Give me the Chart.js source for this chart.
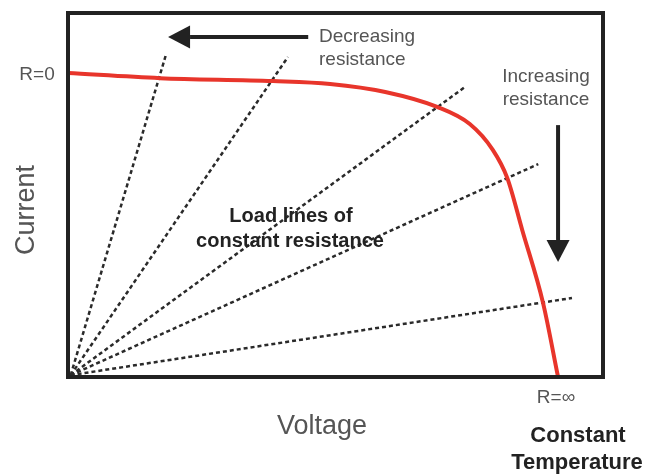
<!DOCTYPE html>
<html>
<head>
<meta charset="utf-8">
<title>Load lines</title>
<script src="https://cdn.jsdelivr.net/npm/chart.js@4/dist/chart.umd.min.js"></script>
<style>
    html, body { margin: 0; padding: 0; background: #fff; }
    canvas { display: block; }
</style>
</head>
<body>
<canvas id="ivChart" width="651" height="474"></canvas>
<script>

// I-V curve at constant temperature (both axes normalised to 0..100)
var curveVoltage = [0, 17.2, 38.3, 49.0, 59.3, 69.0, 75.1, 79.4, 82.1, 84.9, 88.8, 91.6];
var curveCurrent = [83.5, 82.1, 81.3, 80.5, 78.3, 74.2, 69.5, 62.4, 54.7, 40.4, 20.3, 0];

// far ends of the constant resistance load lines, all starting at the origin
var loadVoltage = [18.3, 41.1, 74.4, 87.9, 94.2];
var loadCurrent = [88.5, 87.9, 79.9, 58.5, 21.7];

var DARK = "#222222";
var GREY = "#555555";
var RED = "#e8352b";

function BuildDatasets() {
    var sets = [];

    var curve = [];
    for (var x = 0; x < curveVoltage.length; x++) {
        curve.push({ x: curveVoltage[x], y: curveCurrent[x] });
    }
    sets.push({
        data: curve,
        showLine: true,
        borderColor: RED,
        borderWidth: 4,
        pointRadius: 0,
        cubicInterpolationMode: "monotone"
    });

    for (var i = 0; i < loadVoltage.length; i++) {
        sets.push({
            data: [{ x: 0.5, y: 0.5 }, { x: loadVoltage[i], y: loadCurrent[i] }],
            showLine: true,
            borderColor: "#2a2a2a",
            borderWidth: 2.5,
            borderDash: [4, 3],
            pointRadius: 0
        });
    }
    return sets;
}

function DrawText(ctx, text, x, y, font, color, align) {
    ctx.font = font;
    ctx.fillStyle = color;
    ctx.textAlign = align || "center";
    ctx.textBaseline = "alphabetic";
    ctx.fillText(text, x, y);
}

function DrawArrow(ctx, x1, y1, x2, y2) {
    // shaft from (x1,y1) to the tip at (x2,y2)
    var ang = Math.atan2(y2 - y1, x2 - x1);
    var headLen = 22, headHalf = 11.5;
    var bx = x2 - Math.cos(ang) * headLen;
    var by = y2 - Math.sin(ang) * headLen;

    ctx.strokeStyle = DARK;
    ctx.lineWidth = 4;
    ctx.setLineDash([]);
    ctx.beginPath();
    ctx.moveTo(x1, y1);
    ctx.lineTo(bx, by);
    ctx.stroke();

    ctx.fillStyle = DARK;
    ctx.beginPath();
    ctx.moveTo(x2, y2);
    ctx.lineTo(bx - Math.sin(ang) * headHalf, by + Math.cos(ang) * headHalf);
    ctx.lineTo(bx + Math.sin(ang) * headHalf, by - Math.cos(ang) * headHalf);
    ctx.closePath();
    ctx.fill();
}

var frameAndNotes = {
    id: "frameAndNotes",
    afterDatasetsDraw: function (chart) {
        var ctx = chart.ctx;
        var area = chart.chartArea;
        var sx = chart.scales.x, sy = chart.scales.y;

        ctx.save();

        // plot frame
        ctx.strokeStyle = DARK;
        ctx.lineWidth = 4;
        ctx.setLineDash([]);
        ctx.strokeRect(area.left, area.top, area.right - area.left, area.bottom - area.top);

        // direction arrows
        DrawArrow(ctx, sx.getPixelForValue(44.9), sy.getPixelForValue(93.4),
                       sx.getPixelForValue(18.7), sy.getPixelForValue(93.4));
        DrawArrow(ctx, sx.getPixelForValue(91.6), sy.getPixelForValue(69.2),
                       sx.getPixelForValue(91.6), sy.getPixelForValue(31.6));

        var light = "19px 'Liberation Sans', Arial, sans-serif";
        DrawText(ctx, "Decreasing", 319, 42, light, GREY, "left");
        DrawText(ctx, "resistance", 319, 65, light, GREY, "left");
        DrawText(ctx, "Increasing", 546, 82, light, GREY);
        DrawText(ctx, "resistance", 546, 105, light, GREY);
        DrawText(ctx, "R=0", 37, 80, light, GREY);
        DrawText(ctx, "R=\u221E", 556, 403, light, GREY);

        var bold = "bold 20px 'Liberation Sans', Arial, sans-serif";
        DrawText(ctx, "Load lines of", 291, 222, bold, DARK);
        DrawText(ctx, "constant resistance", 290, 247, bold, DARK);

        var bigBold = "bold 22px 'Liberation Sans', Arial, sans-serif";
        DrawText(ctx, "Constant", 578, 442, bigBold, DARK);
        DrawText(ctx, "Temperature", 577, 469, bigBold, DARK);

        var axisFont = "27px 'Liberation Sans', Arial, sans-serif";
        DrawText(ctx, "Voltage", 322, 434, axisFont, GREY);

        ctx.translate(34, 210);
        ctx.rotate(-Math.PI / 2);
        DrawText(ctx, "Current", 0, 0, axisFont, GREY);

        ctx.restore();
    }
};

var ivChart = new Chart(document.getElementById("ivChart"), {
    type: "scatter",
    data: { datasets: BuildDatasets() },
    options: {
        responsive: false,
        animation: false,
        layout: { padding: { left: 68, right: 48, top: 13, bottom: 97 } },
        scales: {
            x: { type: "linear", min: 0, max: 100, display: false },
            y: { type: "linear", min: 0, max: 100, display: false }
        },
        plugins: {
            legend: { display: false },
            tooltip: { enabled: false }
        }
    },
    plugins: [frameAndNotes]
});
</script>
</body>
</html>
